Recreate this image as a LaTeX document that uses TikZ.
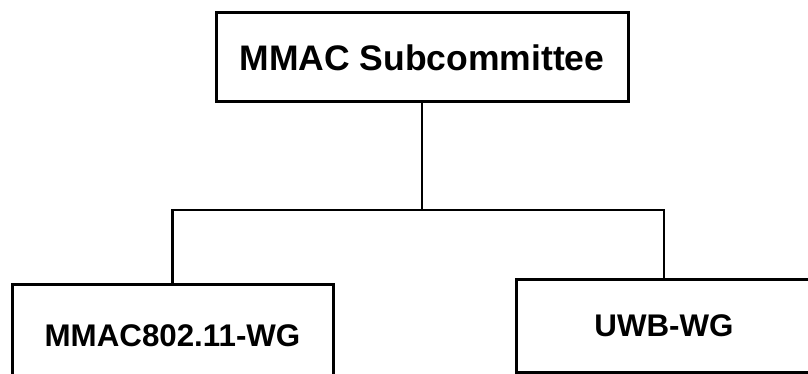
\documentclass[tikz,border=0pt]{standalone}
\usepackage{fontspec}
\setmainfont{Liberation Sans}
\usepackage{tikz}
\usetikzlibrary{positioning, calc}

\begin{document}
\begin{tikzpicture}[x=1pt, y=-1pt,
  orgbox/.style={draw, line width=3pt, inner sep=0pt, align=center, font=\bfseries}]
  \clip (0,0) rectangle (808,374);

  % Subcommittee at the top
  \node[orgbox, minimum width=412pt, minimum height=89pt, font=\bfseries\fontsize{35.5}{40}\selectfont] (sub) at (422, 57.5) {MMAC Subcommittee};

  % Working groups
  \node[orgbox, minimum width=321pt, minimum height=104pt, font=\bfseries\fontsize{31.3}{36}\selectfont] (wg11) at (172.5, 336) {MMAC802.11-WG};
  \node[orgbox, minimum width=296pt, minimum height=93pt, font=\bfseries\fontsize{31.3}{36}\selectfont] (uwb) at (664, 325.5) {UWB-WG};

  % Tree lines
  \coordinate (fork) at (422, 210);
  \draw[line width=2.5pt] (sub.south) -- (fork);
  \draw[line width=2.5pt] (wg11.north) |- (fork) -| (uwb.north);
\end{tikzpicture}
\end{document}
